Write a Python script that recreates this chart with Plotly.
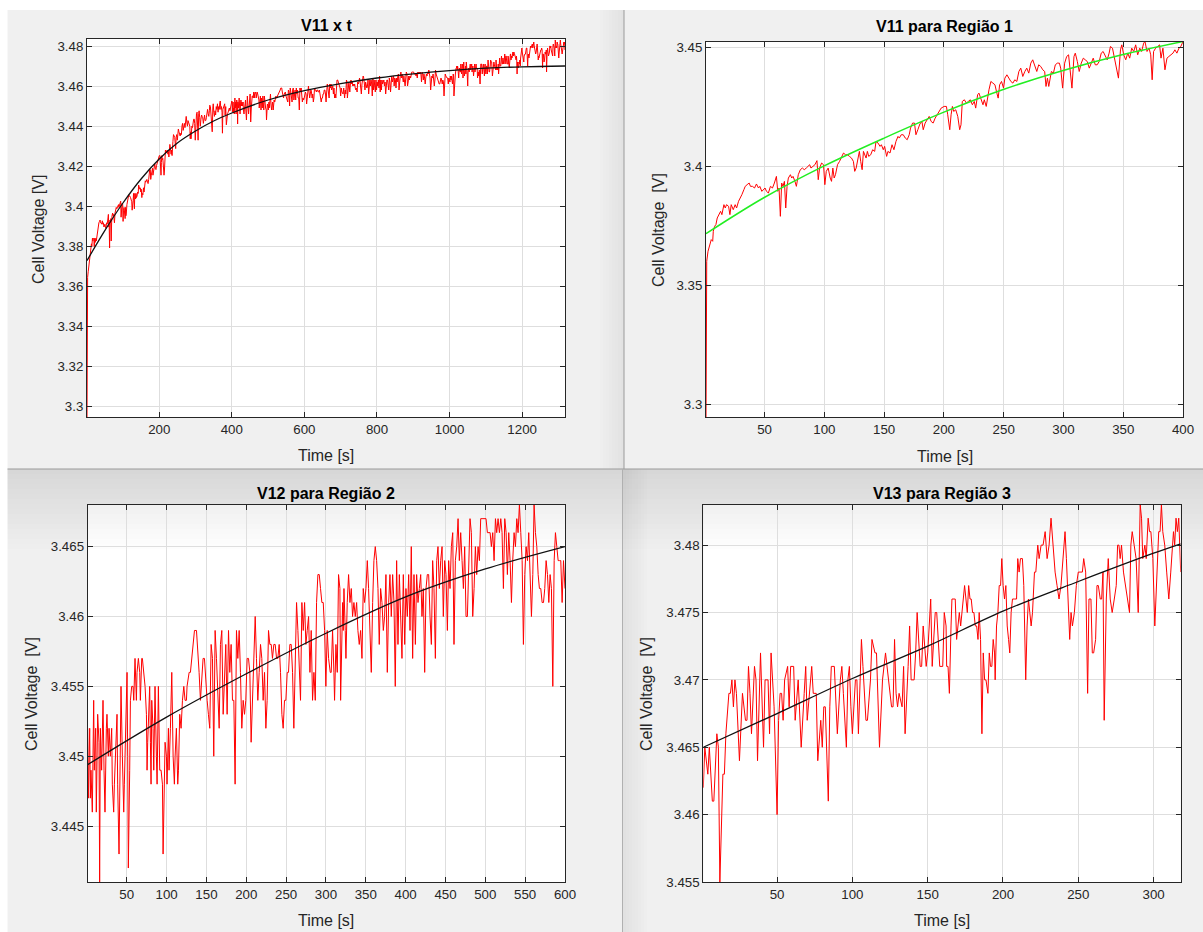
import plotly.graph_objects as go

W, H = 1203, 932

# ---------------- Region 1 : V11, t = 1..400 s ----------------
r1_t = [1.0, 1.6, 2.7, 4.3, 5.4, 6.6, 7.1, 8.2, 9.3, 10.4,
        12.1, 13.2, 14.3, 16.0, 17.1, 18.2, 19.9, 21.0, 22.1, 23.8,
        25.4, 26.6, 28.2, 29.9, 31.0, 32.7, 33.8, 35.4, 37.1, 38.2,
        39.9, 41.6, 43.2, 44.9, 46.0, 47.7, 48.8, 50.4, 51.6, 53.2,
        54.9, 56.6, 58.2, 59.9, 61.0, 62.1, 63.2, 64.3, 65.4, 66.6,
        67.7, 68.8, 69.9, 71.6, 72.7, 73.8, 75.4, 76.6, 78.2, 79.9,
        81.6, 83.2, 84.9, 86.6, 87.7, 88.8, 90.4, 92.1, 93.8, 94.9,
        96.0, 97.7, 99.3, 100.4, 101.6, 103.2, 104.9, 106.0, 107.1, 108.2,
        109.3, 111.0, 112.7, 114.3, 116.0, 117.7, 119.3, 121.0, 122.7, 124.3,
        125.4, 126.6, 128.2, 129.3, 130.4, 131.6, 132.7, 133.8, 134.9, 136.0,
        137.1, 138.8, 140.4, 142.1, 143.2, 144.9, 146.6, 147.7, 149.3, 150.4,
        152.1, 153.2, 154.9, 156.6, 158.2, 159.9, 161.6, 162.7, 164.3, 166.0,
        167.7, 169.3, 171.0, 172.1, 173.8, 175.4, 176.6, 178.2, 179.9, 181.6,
        182.7, 184.3, 186.0, 187.7, 189.3, 191.0, 192.7, 194.3, 196.0, 197.7,
        200.2, 202.1, 203.2, 204.9, 206.0, 207.1, 208.2, 209.9, 211.6, 213.2,
        214.3, 215.4, 217.1, 218.8, 220.4, 222.1, 223.8, 225.4, 226.6, 228.2,
        229.3, 231.0, 232.7, 233.8, 235.4, 237.7, 239.3, 241.0, 242.7, 244.3,
        245.4, 246.6, 248.2, 249.9, 251.0, 252.7, 254.3, 256.0, 257.7, 259.3,
        261.0, 262.7, 264.3, 266.0, 267.7, 269.3, 271.0, 272.7, 274.3, 276.0,
        277.7, 279.3, 281.0, 282.7, 284.3, 285.4, 286.6, 287.7, 288.8, 289.9,
        291.6, 293.2, 294.9, 296.6, 297.7, 299.3, 301.0, 302.7, 304.3, 306.0,
        307.1, 308.8, 309.9, 311.6, 313.2, 314.9, 316.6, 318.2, 319.9, 321.6,
        323.2, 324.9, 326.6, 328.2, 329.9, 331.6, 333.2, 334.9, 336.6, 338.2,
        339.3, 341.0, 342.7, 344.3, 346.0, 347.7, 348.8, 350.4, 352.1, 353.8,
        355.4, 357.1, 358.8, 360.4, 362.1, 363.8, 365.4, 367.1, 368.2, 369.9,
        371.6, 373.0, 374.2, 375.4, 377.1, 378.8, 380.4, 381.6, 383.2, 384.9,
        386.6, 388.2, 389.9, 391.6, 393.2, 394.9, 396.6, 398.2, 400.0]
r1_v = [3.2945, 3.3601, 3.3643, 3.3671, 3.3692, 3.3685, 3.3727, 3.3748, 3.3755, 3.3783,
        3.3797, 3.3811, 3.3797, 3.3839, 3.3825, 3.3839, 3.3832, 3.3797, 3.3839, 3.3818,
        3.3839, 3.3825, 3.3853, 3.3867, 3.3881, 3.3902, 3.3916, 3.3923, 3.3930, 3.3916,
        3.3916, 3.3909, 3.3926, 3.3909, 3.3916, 3.3895, 3.3902, 3.3909, 3.3895, 3.3888,
        3.3916, 3.3909, 3.3930, 3.3958, 3.3895, 3.3909, 3.3790, 3.3930, 3.3916, 3.3937,
        3.3825, 3.3916, 3.3951, 3.3965, 3.3951, 3.3958, 3.3937, 3.3916, 3.3965, 3.3986,
        3.3993, 3.3986, 3.3993, 3.4000, 3.4007, 3.3993, 3.4000, 3.4007, 3.4024, 3.3944,
        3.3993, 3.4014, 3.4007, 3.3923, 3.3979, 3.3993, 3.3951, 3.3937, 3.3993, 3.3951,
        3.3965, 3.4007, 3.4021, 3.4042, 3.4056, 3.4049, 3.4049, 3.4042, 3.4035, 3.4021,
        3.3979, 3.3993, 3.4028, 3.4063, 3.4021, 3.3986, 3.4063, 3.4049, 3.4035, 3.4063,
        3.4042, 3.4049, 3.4070, 3.4063, 3.4105, 3.4098, 3.4084, 3.4091, 3.4070, 3.4084,
        3.4042, 3.4063, 3.4056, 3.4091, 3.4070, 3.4105, 3.4126, 3.4119, 3.4133, 3.4133,
        3.4119, 3.4112, 3.4133, 3.4161, 3.4182, 3.4182, 3.4133, 3.4154, 3.4178, 3.4189,
        3.4154, 3.4182, 3.4196, 3.4210, 3.4189, 3.4182, 3.4203, 3.4217, 3.4231, 3.4245,
        3.4252, 3.4252, 3.4217, 3.4154, 3.4217, 3.4252, 3.4231, 3.4238, 3.4210, 3.4154,
        3.4175, 3.4273, 3.4280, 3.4266, 3.4273, 3.4280, 3.4259, 3.4273, 3.4245, 3.4301,
        3.4308, 3.4287, 3.4259, 3.4280, 3.4252, 3.4322, 3.4357, 3.4350, 3.4343, 3.4308,
        3.4287, 3.4343, 3.4357, 3.4329, 3.4371, 3.4385, 3.4371, 3.4357, 3.4350, 3.4364,
        3.4357, 3.4399, 3.4413, 3.4378, 3.4399, 3.4413, 3.4392, 3.4434, 3.4448, 3.4420,
        3.4399, 3.4427, 3.4420, 3.4406, 3.4399, 3.4336, 3.4371, 3.4336, 3.4371, 3.4399,
        3.4392, 3.4427, 3.4434, 3.4434, 3.4413, 3.4329, 3.4434, 3.4462, 3.4469, 3.4399,
        3.4329, 3.4462, 3.4476, 3.4441, 3.4399, 3.4434, 3.4455, 3.4448, 3.4441, 3.4413,
        3.4434, 3.4455, 3.4427, 3.4427, 3.4441, 3.4476, 3.4483, 3.4462, 3.4448, 3.4476,
        3.4504, 3.4497, 3.4455, 3.4427, 3.4371, 3.4490, 3.4511, 3.4469, 3.4448, 3.4476,
        3.4455, 3.4497, 3.4483, 3.4511, 3.4469, 3.4497, 3.4483, 3.4518, 3.4525, 3.4483,
        3.4497, 3.4469, 3.4364, 3.4483, 3.4497, 3.4504, 3.4511, 3.4455, 3.4497, 3.4406,
        3.4455, 3.4462, 3.4469, 3.4476, 3.4490, 3.4476, 3.4497, 3.4504, 3.4525]

# ---------------- Region 2 : V12, t = 1..600 s (mV) ----------------
r2_t = [1.0, 1.8, 3.5, 4.3, 5.1, 6.8, 8.5, 9.3, 11.0, 11.8,
        13.5, 15.2, 16.0, 16.9, 18.5, 20.2, 21.5, 22.7, 24.4, 25.2,
        26.9, 27.8, 29.4, 31.1, 31.9, 33.6, 34.5, 36.1, 37.8, 38.6,
        40.3, 42.0, 42.8, 44.5, 46.2, 47.0, 48.7, 50.4, 51.2, 52.0,
        53.7, 54.6, 56.2, 57.9, 58.8, 60.4, 62.1, 62.9, 64.6, 66.3,
        67.1, 68.0, 68.8, 69.6, 71.3, 73.0, 74.7, 75.5, 76.3, 77.2,
        78.8, 79.7, 80.5, 81.4, 83.0, 83.9, 85.5, 87.2, 88.1, 89.7,
        91.4, 93.1, 94.8, 95.6, 97.3, 98.1, 99.8, 100.6, 102.3, 103.1,
        104.8, 106.5, 108.2, 109.8, 110.7, 112.3, 114.0, 114.9, 116.5, 118.2,
        119.9, 121.6, 123.2, 124.9, 125.7, 128.3, 129.9, 131.6, 133.3, 135.0,
        137.5, 139.1, 140.8, 142.5, 144.2, 145.8, 147.5, 149.2, 150.9, 152.5,
        154.2, 155.9, 157.6, 159.2, 160.9, 162.6, 164.3, 166.0, 167.6, 169.3,
        171.0, 172.6, 174.3, 176.0, 177.7, 179.3, 181.0, 182.7, 184.4, 186.0,
        187.7, 189.4, 191.1, 192.7, 194.4, 196.1, 197.8, 199.4, 201.1, 202.8,
        204.5, 206.1, 207.8, 209.5, 211.2, 212.8, 214.5, 216.2, 217.9, 219.5,
        221.2, 222.9, 224.6, 226.2, 227.9, 229.6, 231.3, 232.9, 234.6, 236.3,
        238.0, 239.6, 241.3, 243.0, 244.7, 246.3, 248.0, 249.7, 251.4, 253.0,
        254.7, 256.4, 258.1, 259.7, 261.4, 263.1, 264.8, 266.4, 268.1, 269.8,
        271.5, 273.2, 274.8, 276.5, 278.2, 279.9, 281.5, 283.2, 284.9, 286.6,
        288.2, 289.9, 291.6, 293.2, 294.9, 296.6, 298.3, 299.9, 301.6, 303.3,
        305.4, 306.6, 308.3, 310.0, 310.8, 312.5, 314.2, 315.8, 317.5, 318.4,
        319.2, 320.9, 321.7, 322.6, 324.2, 325.1, 326.7, 328.4, 330.1, 331.8,
        333.4, 335.1, 336.8, 338.5, 340.1, 341.8, 343.5, 345.2, 346.8, 348.5,
        350.2, 351.9, 353.5, 355.2, 356.9, 358.6, 360.2, 361.9, 363.6, 365.3,
        366.9, 368.6, 370.3, 372.0, 373.6, 375.3, 377.0, 378.7, 380.3, 382.0,
        383.7, 385.4, 387.0, 388.7, 390.4, 392.1, 393.7, 395.4, 397.1, 398.8,
        400.4, 402.1, 403.8, 405.5, 407.1, 408.8, 410.5, 412.2, 413.8, 415.5,
        417.2, 418.9, 420.5, 422.2, 423.9, 425.6, 427.2, 428.9, 430.6, 432.3,
        433.9, 435.6, 437.3, 439.0, 440.6, 442.3, 444.0, 445.7, 447.3, 449.0,
        450.7, 452.4, 454.0, 455.7, 457.4, 459.1, 460.7, 462.4, 464.1, 465.8,
        467.4, 469.1, 470.8, 472.5, 474.1, 475.8, 477.5, 479.2, 480.8, 482.5,
        484.2, 485.9, 487.5, 489.2, 490.9, 492.6, 494.2, 495.9, 497.6, 499.3,
        500.9, 502.6, 504.3, 506.0, 507.6, 509.3, 511.0, 512.7, 514.3, 516.0,
        517.7, 519.4, 521.0, 522.7, 524.4, 526.1, 527.7, 529.4, 531.1, 532.8,
        534.4, 536.1, 537.8, 539.5, 541.1, 542.8, 544.5, 546.2, 547.8, 549.5,
        551.2, 552.9, 554.5, 556.2, 557.9, 559.6, 561.2, 562.9, 564.6, 566.3,
        567.9, 569.6, 571.3, 573.0, 574.6, 576.3, 578.0, 579.7, 581.3, 583.0,
        584.7, 586.4, 588.0, 589.7, 591.4, 593.1, 594.7, 596.4, 598.1, 600.0]
r2_mv = [3452, 3447, 3452, 3447, 3449, 3446, 3454, 3449, 3452, 3446,
         3453, 3451, 3441, 3452, 3449, 3454, 3449, 3446, 3452, 3453,
         3450, 3452, 3450, 3452, 3448, 3446, 3448, 3450, 3453, 3448,
         3443, 3451, 3455, 3450, 3446, 3448, 3452, 3456, 3450, 3442,
         3449, 3454, 3455, 3455, 3454, 3457, 3454, 3456, 3457, 3456,
         3454, 3456, 3457, 3457, 3456, 3455, 3453, 3449, 3451, 3453,
         3455, 3451, 3448, 3454, 3452, 3449, 3455, 3450, 3448, 3455,
         3449, 3449, 3448, 3443, 3449, 3451, 3450, 3448, 3452, 3449,
         3452, 3456, 3450, 3448, 3450, 3452, 3448, 3449, 3453, 3452,
         3454, 3455, 3454, 3454, 3455, 3456, 3456, 3457, 3458, 3459,
         3459, 3457, 3456, 3454, 3456, 3457, 3457, 3455, 3454, 3453,
         3452, 3458, 3457, 3450, 3459, 3457, 3455, 3452, 3458, 3459,
         3453, 3455, 3458, 3453, 3459, 3456, 3458, 3454, 3454, 3448,
         3459, 3457, 3459, 3456, 3452, 3454, 3453, 3454, 3457, 3457,
         3456, 3451, 3454, 3457, 3460, 3457, 3454, 3456, 3458, 3457,
         3454, 3456, 3452, 3454, 3459, 3458, 3458, 3457, 3458, 3458,
         3457, 3457, 3458, 3456, 3453, 3452, 3454, 3454, 3456, 3456,
         3458, 3458, 3456, 3452, 3457, 3461, 3459, 3457, 3454, 3461,
         3459, 3461, 3458, 3459, 3460, 3456, 3459, 3454, 3456, 3454,
         3461, 3463, 3463, 3462, 3461, 3461, 3459, 3455, 3459, 3457,
         3456, 3456, 3459, 3456, 3454, 3458, 3456, 3463, 3462, 3454,
         3457, 3461, 3459, 3462, 3459, 3457, 3461, 3463, 3461, 3462,
         3460, 3461, 3460, 3461, 3459, 3458, 3459, 3457, 3462, 3461,
         3462, 3464, 3462, 3459, 3456, 3461, 3464, 3465, 3464, 3462,
         3458, 3462, 3461, 3459, 3460, 3463, 3456, 3461, 3463, 3460,
         3463, 3461, 3455, 3464, 3458, 3463, 3459, 3457, 3463, 3458,
         3462, 3460, 3463, 3459, 3465, 3457, 3463, 3458, 3463, 3461,
         3462, 3463, 3460, 3462, 3456, 3462, 3463, 3463, 3460, 3458,
         3464, 3462, 3457, 3464, 3465, 3462, 3464, 3465, 3460, 3464,
         3463, 3459, 3464, 3462, 3465, 3466, 3458, 3464, 3465, 3467,
         3464, 3466, 3464, 3462, 3465, 3460, 3460, 3464, 3467, 3466,
         3460, 3462, 3465, 3463, 3465, 3464, 3467, 3467, 3467, 3467,
         3467, 3466, 3466, 3466, 3465, 3466, 3464, 3467, 3466, 3467,
         3466, 3467, 3466, 3462, 3467, 3466, 3463, 3466, 3464, 3461,
         3464, 3466, 3465, 3467, 3466, 3468, 3466, 3464, 3458, 3463,
         3465, 3464, 3466, 3463, 3460, 3463, 3468, 3466, 3465, 3463,
         3462, 3462, 3461, 3461, 3462, 3464, 3463, 3461, 3463, 3462,
         3455, 3464, 3466, 3465, 3464, 3464, 3464, 3461, 3464, 3462]

# ---------------- Region 3 : V13, t = 1..318 s (mV) ----------------
r3_t = [1, 2, 4, 5, 7, 8, 10, 11, 12, 14,
        15, 16, 18, 19, 20, 21, 22, 23, 25, 26,
        27, 29, 30, 31, 32, 33, 35, 36, 37, 39,
        40, 41, 42, 44, 45, 46, 48, 50, 51, 52,
        53, 54, 55, 57, 58, 59, 61, 62, 64, 65,
        66, 68, 69, 70, 72, 73, 74, 76, 77, 79,
        80, 81, 82, 84, 85, 86, 88, 89, 90, 92,
        93, 94, 96, 97, 98, 99, 100, 102, 103, 104,
        106, 107, 109, 110, 112, 113, 115, 116, 118, 120,
        121, 122, 124, 126, 127, 128, 129, 130, 131, 133,
        134, 135, 137, 138, 139, 141, 142, 143, 145, 146,
        147, 149, 150, 152, 153, 155, 156, 158, 160, 161,
        162.2, 162.6, 163.5, 164.4, 165.5, 166.1, 167.5, 168.3, 169.2, 170.1,
        171.0, 171.9, 172.8, 173.6, 174.5, 175.4, 176.3, 177.2, 178.1, 178.9,
        179.8, 180.7, 181.6, 182.5, 183.4, 184.2, 185.1, 186.0, 186.9, 187.8,
        188.7, 190.0, 190.9, 191.7, 192.6, 193.5, 194.4, 194.8, 195.7, 196.6,
        197.5, 198.4, 199.2, 200.1, 201.0, 201.9, 202.8, 203.7, 204.5, 205.4,
        206.3, 207.6, 209.0, 209.8, 210.7, 211.6, 212.9, 213.8, 215.1, 216.0,
        216.9, 217.8, 218.7, 219.6, 220.9, 221.8, 223.1, 224.0, 225.3, 226.6,
        228.0, 229.3, 230.6, 231.9, 233.2, 234.6, 235.9, 237.2, 238.5, 239.9,
        241.2, 242.1, 243.0, 244.3, 245.2, 246.1, 247.4, 248.7, 250.0, 251.3,
        252.7, 253.6, 254.9, 256.2, 257.1, 258.4, 259.3, 260.2, 261.5, 262.4,
        263.3, 264.6, 265.5, 266.4, 267.2, 268.6, 269.9, 271.2, 272.5, 273.9,
        275.2, 276.1, 277.0, 277.8, 278.7, 280.0, 281.4, 282.7, 284.0, 284.9,
        285.8, 287.1, 288.4, 289.8, 291.1, 292.0, 292.8, 294.2, 295.1, 296.4,
        297.3, 298.2, 299.5, 300.8, 302.1, 303.4, 304.3, 305.2, 306.1, 307.4,
        308.7, 310.1, 311.4, 312.3, 313.2, 314.0, 314.9, 315.8, 316.7, 318.0]
r3_mv = [3462, 3465, 3463, 3465, 3461, 3461, 3466, 3465, 3455, 3463,
         3463, 3466, 3469, 3469, 3470, 3468, 3470, 3469, 3464, 3467,
         3469, 3467, 3467, 3471, 3469, 3466, 3471, 3470, 3464, 3472,
         3468, 3465, 3470, 3470, 3466, 3472, 3468, 3460, 3467, 3469,
         3469, 3467, 3470, 3471, 3468, 3471, 3471, 3467, 3470, 3468,
         3465, 3469, 3471, 3467, 3470, 3471, 3469, 3469, 3464, 3467,
         3465, 3468, 3468, 3461, 3468, 3471, 3471, 3468, 3466, 3470,
         3471, 3469, 3465, 3470, 3471, 3468, 3466, 3470, 3470, 3466,
         3473, 3471, 3467, 3467, 3470, 3473, 3472, 3472, 3465, 3470,
         3471, 3472, 3470, 3468, 3468, 3473, 3469, 3468, 3469, 3468,
         3471, 3466, 3471, 3474, 3470, 3470, 3472, 3475, 3471, 3471,
         3474, 3471, 3472, 3476, 3471, 3475, 3475, 3471, 3471, 3475,
         3474, 3471, 3471, 3469, 3474, 3476, 3476, 3476, 3473, 3474,
         3475, 3474, 3475, 3476, 3477, 3476, 3475, 3477, 3476, 3476,
         3475, 3475, 3474, 3474, 3473, 3475, 3473, 3466, 3472, 3470,
         3470, 3469, 3472, 3471, 3471, 3473, 3472, 3470, 3474, 3475,
         3477, 3477, 3479, 3477, 3476, 3477, 3474, 3473, 3472, 3475,
         3476, 3476, 3476, 3479, 3478, 3479, 3479, 3477, 3470, 3474,
         3476, 3475, 3474, 3475, 3478, 3478, 3480, 3479, 3480, 3480,
         3481, 3479, 3480, 3482, 3480, 3478, 3477, 3476, 3477, 3479,
         3481, 3479, 3477, 3473, 3475, 3474, 3475, 3477, 3478, 3478,
         3478, 3479, 3478, 3469, 3476, 3476, 3472, 3472, 3473, 3477,
         3477, 3476, 3476, 3478, 3467, 3476, 3479, 3476, 3475, 3476,
         3477, 3480, 3480, 3479, 3480, 3478, 3477, 3476, 3475, 3480,
         3481, 3480, 3479, 3475, 3483, 3482, 3479, 3480, 3479, 3482,
         3481, 3481, 3479, 3474, 3477, 3481, 3481, 3483, 3481, 3480,
         3478, 3476, 3478, 3480, 3481, 3480, 3482, 3481, 3482, 3478]

# ---------------- Fitted curves ----------------
fit_all_t = [1, 50, 100, 150, 200, 250, 300, 350, 400, 500, 600, 700, 800, 900, 1000, 1100, 1200, 1318]
fit_all_v = [3.3727, 3.3877, 3.4015, 3.4135, 3.4235, 3.4315, 3.4375, 3.4425, 3.4465, 3.4530,
             3.4577, 3.4612, 3.4640, 3.4661, 3.4677, 3.4689, 3.4696, 3.4700]
fit1_t = [1, 49, 99, 150, 200, 249, 299, 349, 400]
fit1_v = [3.3717, 3.3867, 3.4000, 3.4119, 3.4228, 3.4322, 3.4402, 3.4469, 3.4525]
fit2_t = [1, 100, 200, 300, 400, 500, 600]
fit2_v = [3.4494, 3.4528, 3.4559, 3.4588, 3.4614, 3.4634, 3.4650]
fit3_t = [1, 50, 100, 150, 200, 250, 300, 318]
fit3_v = [3.4650, 3.4675, 3.4701, 3.4725, 3.4751, 3.4773, 3.4794, 3.4801]

# ---------------- Ticks ----------------
tl_xt = [200, 400, 600, 800, 1000, 1200]
tl_yt = [3.30, 3.32, 3.34, 3.36, 3.38, 3.40, 3.42, 3.44, 3.46, 3.48]
tl_yl = ["3.3", "3.32", "3.34", "3.36", "3.38", "3.4", "3.42", "3.44", "3.46", "3.48"]
tr_xt = [50, 100, 150, 200, 250, 300, 350, 400]
tr_yt = [3.30, 3.35, 3.40, 3.45]
tr_yl = ["3.3", "3.35", "3.4", "3.45"]
bl_xt = [50, 100, 150, 200, 250, 300, 350, 400, 450, 500, 550, 600]
bl_yt = [3.445, 3.450, 3.455, 3.460, 3.465]
bl_yl = ["3.445", "3.45", "3.455", "3.46", "3.465"]
br_xt = [50, 100, 150, 200, 250, 300]
br_yt = [3.455, 3.460, 3.465, 3.470, 3.475, 3.480]
br_yl = ["3.455", "3.46", "3.465", "3.47", "3.475", "3.48"]

r2_v = [m / 1000 for m in r2_mv]
r3_v = [m / 1000 for m in r3_mv]
all_t = list(r1_t) + [400 + t for t in r2_t] + [1000 + t for t in r3_t]
all_v = list(r1_v) + r2_v + r3_v

FONT = "Liberation Sans, Arial, Helvetica, sans-serif"
RED = "#ff0000"

fig = go.Figure()
fig.add_trace(go.Scatter(x=all_t, y=all_v, mode="lines", line=dict(color=RED, width=1),
                         xaxis="x", yaxis="y", hoverinfo="skip"))
fig.add_trace(go.Scatter(x=fit_all_t, y=fit_all_v, mode="lines",
                         line=dict(color="#111111", width=1.3, shape="spline"), xaxis="x", yaxis="y"))
fig.add_trace(go.Scatter(x=r1_t, y=r1_v, mode="lines", line=dict(color=RED, width=1),
                         xaxis="x2", yaxis="y2"))
fig.add_trace(go.Scatter(x=fit1_t, y=fit1_v, mode="lines",
                         line=dict(color="#22ee22", width=1.5, shape="spline"), xaxis="x2", yaxis="y2"))
fig.add_trace(go.Scatter(x=r2_t, y=r2_v, mode="lines", line=dict(color=RED, width=1),
                         xaxis="x3", yaxis="y3"))
fig.add_trace(go.Scatter(x=fit2_t, y=fit2_v, mode="lines",
                         line=dict(color="#111111", width=1.3, shape="spline"), xaxis="x3", yaxis="y3"))
fig.add_trace(go.Scatter(x=r3_t, y=r3_v, mode="lines", line=dict(color=RED, width=1),
                         xaxis="x4", yaxis="y4"))
fig.add_trace(go.Scatter(x=fit3_t, y=fit3_v, mode="lines",
                         line=dict(color="#111111", width=1.3, shape="spline"), xaxis="x4", yaxis="y4"))


def px_x(a, b):
    return [a / W, b / W]


def px_y(top, bottom):
    return [1 - bottom / H, 1 - top / H]


def ax(domain, rng, tv, tt=None, anchor=None):
    d = dict(domain=domain, range=rng, tickvals=tv, showline=True, linecolor="#262626",
             linewidth=1, mirror="ticks", ticks="inside", ticklen=5, tickcolor="#262626",
             showgrid=True, gridcolor="#dedede", gridwidth=1, zeroline=False,
             tickfont=dict(family=FONT, size=13.3, color="#262626"), anchor=anchor,
             fixedrange=True)
    if tt is not None:
        d["ticktext"] = tt
    return d


fig.update_layout(
    autosize=True, margin=dict(l=0, r=0, t=0, b=0, autoexpand=False),
    paper_bgcolor="#f0f0f0", plot_bgcolor="#ffffff", showlegend=False,
    font=dict(family=FONT, color="#262626"),
    xaxis=ax(px_x(87, 565), [1, 1318], tl_xt, anchor="y"),
    yaxis=ax(px_y(39, 417), [3.2945, 3.4835], tl_yt, tl_yl, anchor="x"),
    xaxis2=ax(px_x(706, 1183), [1, 400], tr_xt, anchor="y2"),
    yaxis2=ax(px_y(41.5, 417.3), [3.2945, 3.4525], tr_yt, tr_yl, anchor="x2"),
    xaxis3=ax(px_x(87.7, 565), [1, 600], bl_xt, anchor="y3"),
    yaxis3=ax(px_y(504.7, 882), [3.441, 3.468], bl_yt, bl_yl, anchor="x3"),
    xaxis4=ax(px_x(703.3, 1180.7), [1, 318], br_xt, anchor="y4"),
    yaxis4=ax(px_y(504.7, 882), [3.455, 3.483], br_yt, br_yl, anchor="x4"),
)

shapes = []
# white margins of the screenshot
shapes.append(dict(type="rect", xref="paper", yref="paper", x0=0, x1=1, y0=1 - 10 / H, y1=1,
                   fillcolor="#ffffff", line=dict(width=0), layer="below"))
shapes.append(dict(type="rect", xref="paper", yref="paper", x0=0, x1=7.5 / W, y0=0, y1=1,
                   fillcolor="#ffffff", line=dict(width=0), layer="below"))
# shadow on right edge of top-left panel
for i in range(8):
    a = 0.055 * (i + 1) / 8
    shapes.append(dict(type="rect", xref="paper", yref="paper",
                       x0=(600 + i * 3) / W, x1=(603 + i * 3) / W, y0=1 - 469 / H, y1=1 - 10 / H,
                       fillcolor="rgba(0,0,0,%.3f)" % a, line=dict(width=0), layer="below"))
# shadow on left edge of bottom-right panel
for i in range(8):
    a = 0.06 * (8 - i) / 8
    shapes.append(dict(type="rect", xref="paper", yref="paper",
                       x0=(623 + i * 3) / W, x1=(626 + i * 3) / W, y0=0, y1=1 - 469 / H,
                       fillcolor="rgba(0,0,0,%.3f)" % a, line=dict(width=0), layer="below"))
# gradient at top of bottom row
for i in range(16):
    a = 0.10 * (16 - i) / 16
    shapes.append(dict(type="rect", xref="paper", yref="paper", x0=7.5 / W, x1=1,
                       y0=1 - (469 + (i + 1) * 5) / H, y1=1 - (469 + i * 5) / H,
                       fillcolor="rgba(0,0,0,%.3f)" % a, line=dict(width=0), layer="below"))
# panel separators
shapes.append(dict(type="line", xref="paper", yref="paper", x0=624 / W, x1=624 / W,
                   y0=1 - 469 / H, y1=1 - 10 / H, line=dict(color="#9a9a9a", width=1)))
shapes.append(dict(type="line", xref="paper", yref="paper", x0=7.5 / W, x1=1,
                   y0=1 - 469 / H, y1=1 - 469 / H, line=dict(color="#9a9a9a", width=1)))
shapes.append(dict(type="line", xref="paper", yref="paper", x0=622.5 / W, x1=622.5 / W,
                   y0=0, y1=1 - 469 / H, line=dict(color="#b0b0b0", width=1)))
fig.update_layout(shapes=shapes)


def ann(text, x, y, size=16, bold=False, angle=0, color="#262626"):
    t = "<b>%s</b>" % text if bold else text
    return dict(text=t, xref="paper", yref="paper", x=x / W, y=1 - y / H, xanchor="center",
                yanchor="middle", showarrow=False, textangle=angle,
                font=dict(family=FONT, size=size, color=color))


annotations = [
    ann("V11 x t", 326, 25, bold=True, color="#000000"),
    ann("V11 para Região 1", 944.5, 27, bold=True, color="#000000"),
    ann("V12 para Região 2", 326, 493, bold=True, color="#000000"),
    ann("V13 para Região 3", 942, 493, bold=True, color="#000000"),
    ann("Time [s]", 326, 455),
    ann("Time [s]", 944.5, 456),
    ann("Time [s]", 326, 920),
    ann("Time [s]", 942, 920),
    ann("Cell Voltage [V]", 38, 230, angle=-90),
    ann("Cell Voltage\u00a0\u00a0[V]", 658, 230, angle=-90),
    ann("Cell Voltage\u00a0\u00a0[V]", 31, 694, angle=-90),
    ann("Cell Voltage\u00a0\u00a0[V]", 646, 694, angle=-90),
]
fig.update_layout(annotations=annotations)

page_fix = ("document.documentElement.style.margin='0';document.body.style.margin='0';"
            "document.body.style.padding='0';document.documentElement.style.overflow='hidden';"
            "document.body.style.overflow='hidden';")
fig.write_html("out.html", config={"displayModeBar": False}, post_script=page_fix,
               default_width="100vw", default_height="100vh")
